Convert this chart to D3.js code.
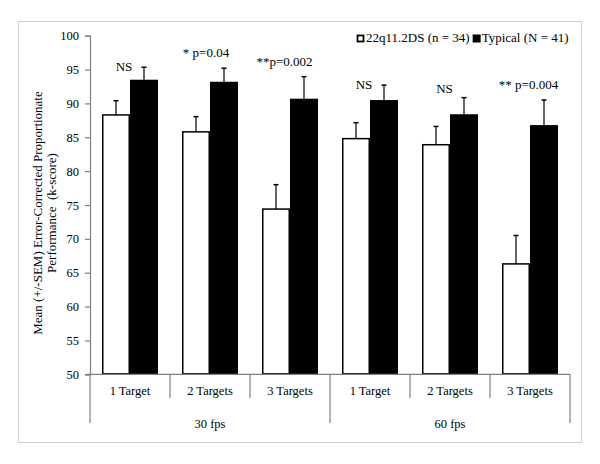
<!DOCTYPE html>
<html><head><meta charset="utf-8">
<script src="https://cdn.jsdelivr.net/npm/d3@7"></script>
<style>body{margin:0;background:#fff}svg{display:block}</style>
</head><body><svg id="c" width="600" height="464"></svg>
<script>
const conditions = ["1 Target","2 Targets","3 Targets","1 Target","2 Targets","3 Targets"];
const rates = ["30 fps","60 fps"];
const seriesNames = ["22q11.2DS (n = 34)","Typical (N = 41)"];
const del22 = [88.3, 85.8, 74.4, 84.8, 83.9, 66.3];
const del22Sem = [2.1, 2.25, 3.6, 2.35, 2.7, 4.2];
const typical = [93.5, 93.2, 90.7, 90.5, 88.4, 86.8];
const typicalSem = [1.85, 2.0, 3.25, 2.2, 2.45, 3.7];
const annotations = ["NS","* p=0.04","**p=0.002","NS","NS","** p=0.004"];
const yTicks = [50,55,60,65,70,75,80,85,90,95,100];

const FONT = "'Liberation Serif', 'Times New Roman', Times, serif";
const svg = d3.select("#c");
const L = 90, R = 570, T = 35.7, B = 374.3;
svg.append("rect").attr("x",18.5).attr("y",21.5).attr("width",563).attr("height",421)
  .attr("fill","#fff").attr("stroke","#d0d0d0").attr("stroke-width",1);

const x = d3.scaleBand().domain(d3.range(conditions.length)).range([L,R]).paddingInner(0).paddingOuter(0);
const y = d3.scaleLinear().domain([50,100]).range([B,T]);
const bw = x.bandwidth();
const barW = bw*0.35, gap = bw*0.15;
const axisColor = "#808080";

function txt(sel, size){ return sel.style("font-family",FONT).style("font-size",size).style("fill","#000").style("white-space","pre"); }

// y axis
const ya = svg.append("g").attr("transform",`translate(${L},0)`)
  .call(d3.axisLeft(y).tickValues(yTicks).tickSize(5).tickPadding(6));
ya.select(".domain").attr("stroke",axisColor).attr("stroke-width",1.2);
ya.selectAll(".tick line").attr("stroke",axisColor).attr("stroke-width",1.2);
txt(ya.selectAll(".tick text"),"12.5px");

// y label
const ylab = txt(svg.append("text").attr("text-anchor","middle").attr("transform","rotate(-90)"),"13px");
ylab.append("tspan").attr("x",-213).attr("y",42).text("Mean (+/-SEM) Error-Corrected Proportionate");
ylab.append("tspan").attr("x",-213).attr("y",56).text("Performance  (k-score)");

// bars
const data = conditions.map((c,i)=>({i, v:[del22[i],typical[i]], s:[del22Sem[i],typicalSem[i]]}));
const g = svg.append("g");
data.forEach(d=>{
  d.v.forEach((v,k)=>{
    const bx = x(d.i)+gap+k*barW;
    const cx = bx+barW/2;
    g.append("line").attr("x1",cx).attr("x2",cx).attr("y1",y(v)).attr("y2",y(v+d.s[k])).attr("stroke","#000").attr("stroke-width",1.2);
    g.append("line").attr("x1",cx-2.5).attr("x2",cx+2.5).attr("y1",y(v+d.s[k])).attr("y2",y(v+d.s[k])).attr("stroke","#000").attr("stroke-width",1.5);
    if(k===0){
      g.append("rect").attr("x",bx+0.75).attr("y",y(v)).attr("width",barW-1.5).attr("height",B-y(v)-0.5)
        .attr("fill","#fff").attr("stroke","#000").attr("stroke-width",1.5);
    } else {
      g.append("rect").attr("x",bx).attr("y",y(v)).attr("width",barW).attr("height",B-y(v)).attr("fill","#000");
    }
  });
});

// x axis baseline and dividers
svg.append("line").attr("x1",86.5).attr("x2",R).attr("y1",B).attr("y2",B).attr("stroke",axisColor).attr("stroke-width",1.2);
d3.range(conditions.length+1).forEach(i=>{
  const px = i<conditions.length ? x(i) : R;
  const outer = (i%3===0);
  svg.append("line").attr("x1",px).attr("x2",px).attr("y1",B).attr("y2",outer?423:398).attr("stroke",axisColor).attr("stroke-width",1.2);
});
conditions.forEach((c,i)=>{
  txt(svg.append("text").attr("x",x(i)+bw/2).attr("y",395).attr("text-anchor","middle"),"12.5px").text(c);
});
rates.forEach((r,j)=>{
  txt(svg.append("text").attr("x",x(j*3)+bw*1.5).attr("y",427.5).attr("text-anchor","middle"),"12.5px").text(r);
});

// annotations
const annY = [70.7,57,65.7,89,93.3,89];
const annDx = [-6,-4,-5.5,-6,-5.5,-1.5];
annotations.forEach((a,i)=>{
  txt(svg.append("text").attr("x",x(i)+bw/2+annDx[i]).attr("y",annY[i]).attr("text-anchor","middle"),"13px").text(a);
});

// legend
const lg = svg.append("g");
lg.append("rect").attr("x",357.5).attr("y",35.5).attr("width",6).attr("height",6).attr("fill","#fff").attr("stroke","#000").attr("stroke-width",1.8);
const t1 = txt(lg.append("text").attr("x",366).attr("y",42),"13px").text(seriesNames[0]);
const w1 = t1.node().getComputedTextLength();
lg.append("rect").attr("x",366+w1+3).attr("y",34.5).attr("width",8).attr("height",8).attr("fill","#000");
txt(lg.append("text").attr("x",366+w1+12).attr("y",42),"13px").text(seriesNames[1]);
</script></body></html>
